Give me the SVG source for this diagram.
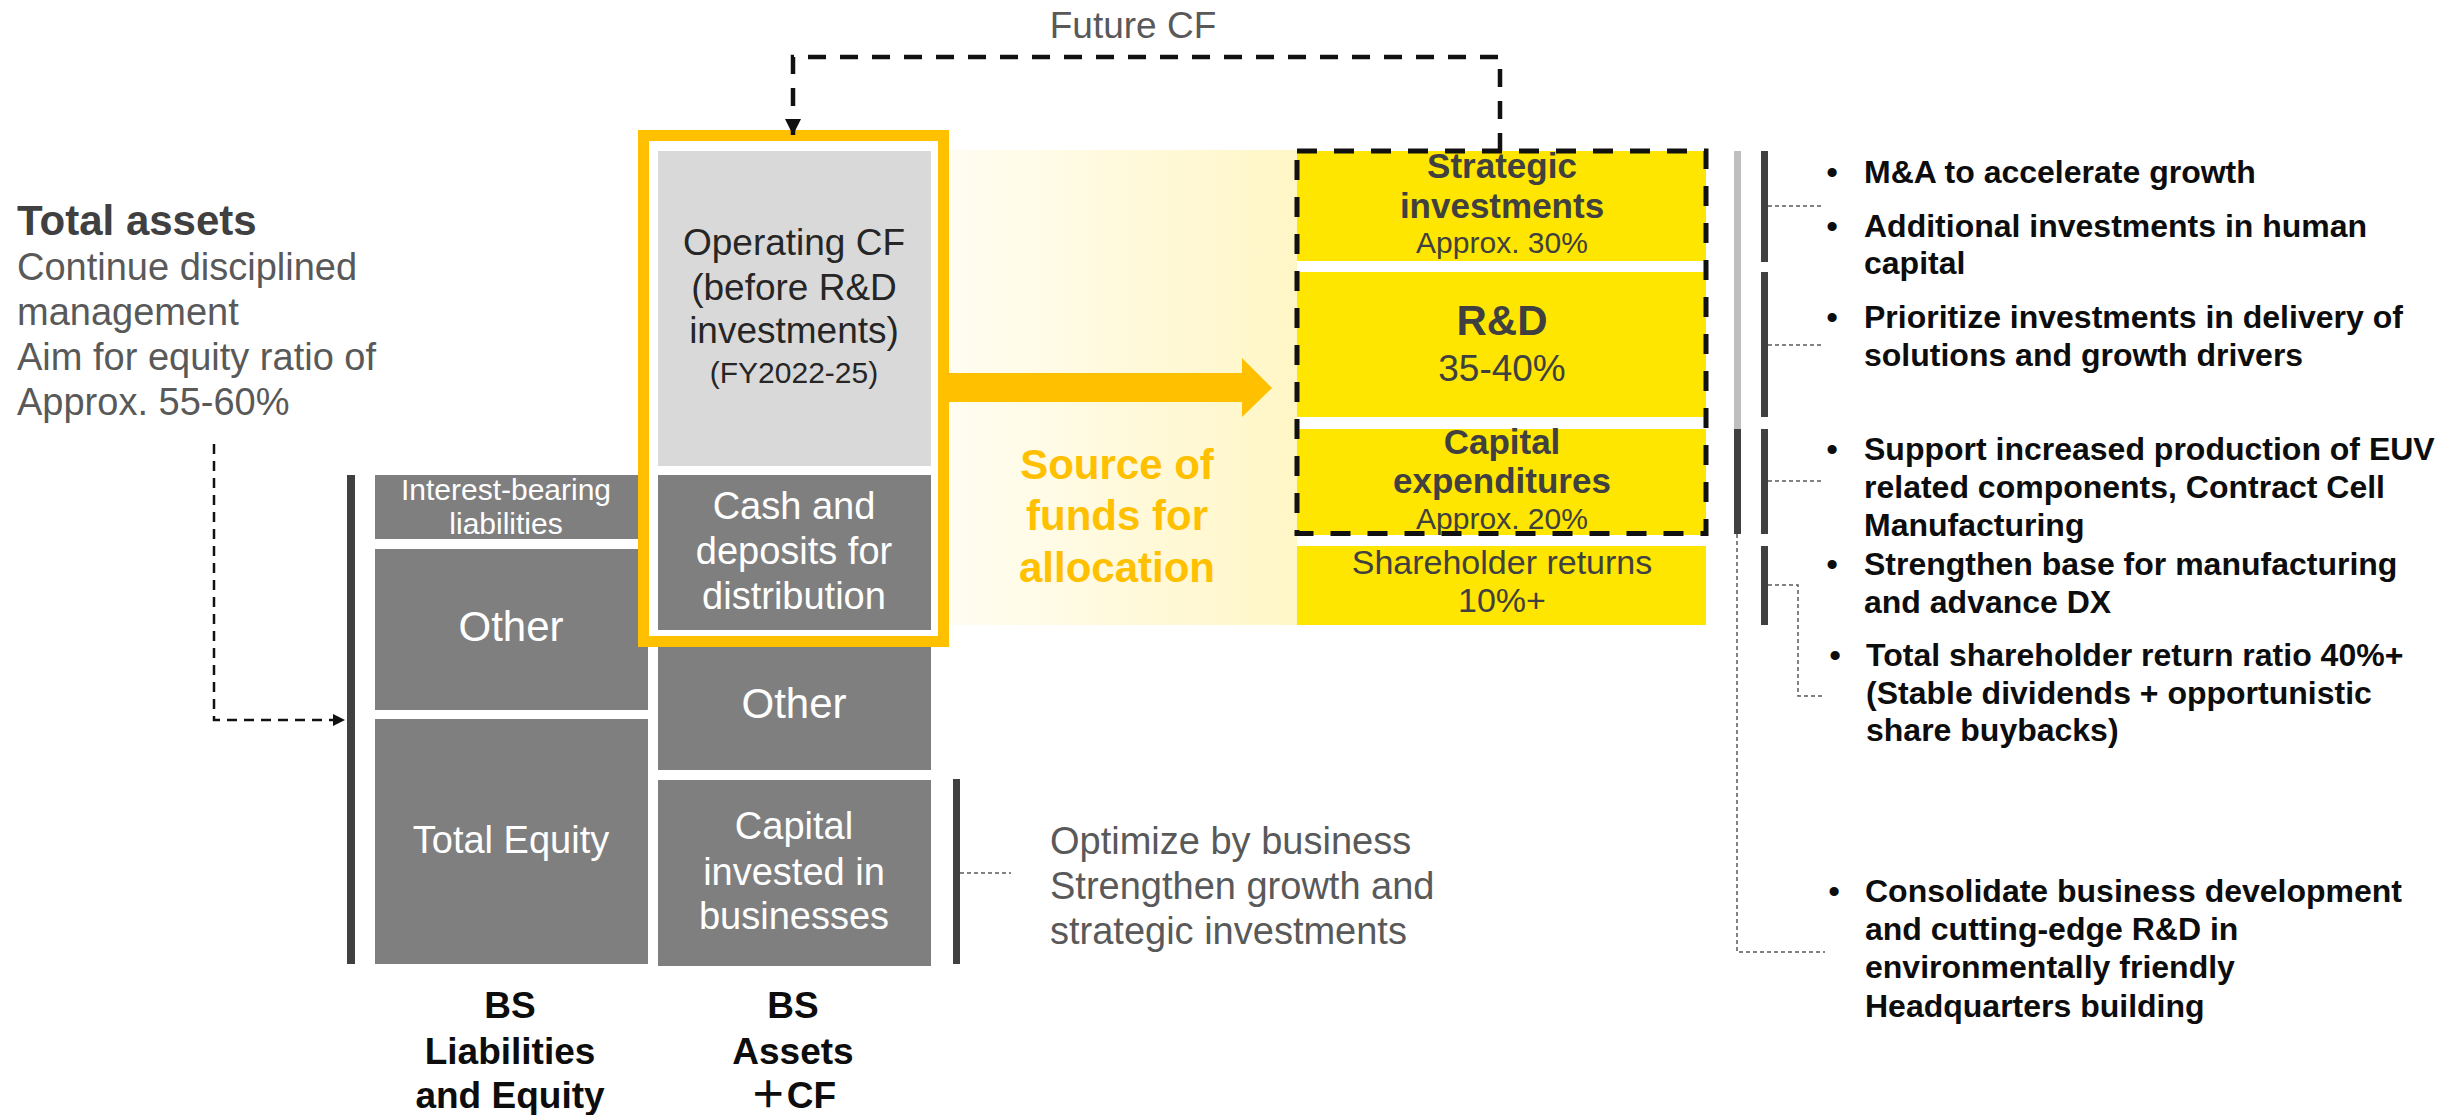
<svg xmlns="http://www.w3.org/2000/svg" width="2451" height="1115" viewBox="0 0 2451 1115">
<defs>
<style>
text{font-family:"Liberation Sans","Noto Sans CJK JP",sans-serif}
.b{font-weight:700}
.mid{text-anchor:middle}
.dg{fill:#7f7f7f}
.wt{fill:#ffffff}
.gr{fill:#595959}
.dk{fill:#404040}
.yb{fill:#ffe600}
.bar{fill:#404040}
.thin{fill:none;stroke:#595959;stroke-width:1.5;stroke-dasharray:4 3}
.blt{font-size:32px;font-weight:700;fill:#0d0d0d}
</style>
<linearGradient id="pale" x1="0" y1="0" x2="1" y2="0">
<stop offset="0" stop-color="#fffdf2"/>
<stop offset="1" stop-color="#fff6c6"/>
</linearGradient>
<marker id="ahBig" markerUnits="userSpaceOnUse" markerWidth="18" markerHeight="18" refX="16" refY="8" orient="auto">
<path d="M0,0 L16,8 L0,16 Z" fill="#111"/>
</marker>
<marker id="ahSmall" markerUnits="userSpaceOnUse" markerWidth="14" markerHeight="14" refX="12" refY="6" orient="auto">
<path d="M0,0 L12,6 L0,12 Z" fill="#111"/>
</marker>
</defs>
<rect width="2451" height="1115" fill="#ffffff"/>

<g id="title-total-assets">
<text x="17" y="235" class="b dk" font-size="42">Total assets</text>
<text class="gr" font-size="38"><tspan x="17" y="280">Continue disciplined</tspan><tspan x="17" y="325">management</tspan><tspan x="17" y="370">Aim for equity ratio of</tspan><tspan x="17" y="415">Approx. 55-60%</tspan></text>
</g>

<g id="future-cf-label">
<text x="1133" y="38" class="gr mid" font-size="37">Future CF</text>
</g>

<g id="source-region">
<rect x="949" y="150" width="348" height="475" fill="url(#pale)"/>
<polygon points="949,373 1242,373 1242,358 1272,388 1242,417 1242,402 949,402" fill="#ffc000"/>
<text class="b mid" font-size="42" fill="#ffc000"><tspan x="1117" y="479">Source of</tspan><tspan x="1117" y="530">funds for</tspan><tspan x="1117" y="582">allocation</tspan></text>
</g>

<g id="liabilities-bar"><rect x="347" y="475" width="8" height="489" class="bar"/></g>

<g id="interest-bearing">
<rect x="375" y="475" width="263" height="64" class="dg"/>
<text class="wt mid" font-size="30"><tspan x="506" y="500">Interest-bearing</tspan><tspan x="506" y="534">liabilities</tspan></text>
</g>
<g id="other-liab">
<rect x="375" y="549" width="273" height="161" class="dg"/>
<text x="511" y="641" class="wt mid" font-size="42">Other</text>
</g>
<g id="total-equity">
<rect x="375" y="719" width="273" height="245" class="dg"/>
<text x="511" y="853" class="wt mid" font-size="38">Total Equity</text>
</g>

<g id="operating-cf">
<rect x="658" y="151" width="273" height="315" fill="#d9d9d9"/>
<text class="mid" font-size="37" fill="#262626"><tspan x="794" y="255">Operating CF</tspan><tspan x="794" y="300">(before R&amp;D</tspan><tspan x="794" y="343">investments)</tspan><tspan x="794" y="383" font-size="30">(FY2022-25)</tspan></text>
</g>
<g id="cash-deposits">
<rect x="658" y="475" width="273" height="155" class="dg"/>
<text class="wt mid" font-size="38"><tspan x="794" y="519">Cash and</tspan><tspan x="794" y="564">deposits for</tspan><tspan x="794" y="609">distribution</tspan></text>
</g>
<g id="other-assets">
<rect x="658" y="645" width="273" height="125" class="dg"/>
<text x="794" y="718" class="wt mid" font-size="42">Other</text>
</g>
<g id="capital-invested">
<rect x="658" y="780" width="273" height="186" class="dg"/>
<text class="wt mid" font-size="38"><tspan x="794" y="839">Capital</tspan><tspan x="794" y="885">invested in</tspan><tspan x="794" y="929">businesses</tspan></text>
</g>

<g id="source-frame">
<rect x="643.5" y="135.5" width="300" height="506" fill="none" stroke="#ffc000" stroke-width="11"/>
</g>

<g id="capital-bar"><rect x="953" y="779" width="7" height="185" class="bar"/></g>
<g id="optimize-note">
<text class="gr" font-size="38"><tspan x="1050" y="854">Optimize by business</tspan><tspan x="1050" y="899">Strengthen growth and</tspan><tspan x="1050" y="944">strategic investments</tspan></text>
</g>

<g id="bs-labels">
<text class="b mid" font-size="37" fill="#0d0d0d"><tspan x="510" y="1018">BS</tspan><tspan x="510" y="1064">Liabilities</tspan><tspan x="510" y="1108">and Equity</tspan></text>
<text class="b mid" font-size="37" fill="#0d0d0d"><tspan x="793" y="1018">BS</tspan><tspan x="793" y="1064">Assets</tspan><tspan x="793" y="1108">＋CF</tspan></text>
</g>

<g id="strategic">
<rect x="1297" y="151" width="409" height="110" class="yb"/>
<text class="b dk mid" font-size="35"><tspan x="1502" y="178">Strategic</tspan><tspan x="1502" y="218">investments</tspan></text>
<text x="1502" y="253" class="dk mid" font-size="30">Approx. 30%</text>
</g>
<g id="rnd">
<rect x="1297" y="272" width="409" height="145" class="yb"/>
<text x="1502" y="335" class="b dk mid" font-size="42">R&amp;D</text>
<text x="1502" y="381" class="dk mid" font-size="37">35-40%</text>
</g>
<g id="capex">
<rect x="1297" y="429" width="409" height="106" class="yb"/>
<text class="b dk mid" font-size="35"><tspan x="1502" y="454">Capital</tspan><tspan x="1502" y="493">expenditures</tspan></text>
<text x="1502" y="529" class="dk mid" font-size="30">Approx. 20%</text>
</g>
<g id="shareholder-returns">
<rect x="1297" y="546" width="409" height="79" class="yb"/>
<text class="dk mid" font-size="34"><tspan x="1502" y="574">Shareholder returns</tspan><tspan x="1502" y="612">10%+</tspan></text>
</g>
<g id="investment-frame">
<rect x="1297" y="151" width="409" height="382.5" fill="none" stroke="#111" stroke-width="5" stroke-dasharray="20 17"/>
</g>

<g id="right-bars">
<rect x="1734" y="151" width="7" height="278" fill="#bfbfbf"/>
<rect x="1734" y="429" width="7" height="105" class="bar"/>
<rect x="1761" y="151" width="7" height="111" class="bar"/>
<rect x="1761" y="272" width="7" height="145" class="bar"/>
<rect x="1761" y="429" width="7" height="105" class="bar"/>
<rect x="1761" y="546" width="7" height="79" class="bar"/>
</g>

<g id="bullets">
<g id="b-strategic">
<text x="1832" y="183" class="blt mid">•</text><text x="1864" y="183" class="blt">M&amp;A to accelerate growth</text>
<text x="1832" y="237" class="blt mid">•</text><text class="blt"><tspan x="1864" y="237">Additional investments in human</tspan><tspan x="1864" y="274">capital</tspan></text>
</g>
<g id="b-rnd">
<text x="1832" y="328" class="blt mid">•</text><text class="blt"><tspan x="1864" y="328">Prioritize investments in delivery of</tspan><tspan x="1864" y="366">solutions and growth drivers</tspan></text>
</g>
<g id="b-capex">
<text x="1832" y="460" class="blt mid">•</text><text class="blt"><tspan x="1864" y="460">Support increased production of EUV</tspan><tspan x="1864" y="498">related components, Contract Cell</tspan><tspan x="1864" y="536">Manufacturing</tspan></text>
<text x="1832" y="575" class="blt mid">•</text><text class="blt"><tspan x="1864" y="575">Strengthen base for manufacturing</tspan><tspan x="1864" y="613">and advance DX</tspan></text>
</g>
<g id="b-returns">
<text x="1835" y="666" class="blt mid">•</text><text class="blt"><tspan x="1866" y="666">Total shareholder return ratio 40%+</tspan><tspan x="1866" y="704">(Stable dividends + opportunistic</tspan><tspan x="1866" y="741">share buybacks)</tspan></text>
</g>
<g id="b-hq">
<text x="1834" y="902" class="blt mid">•</text><text class="blt"><tspan x="1865" y="902">Consolidate business development</tspan><tspan x="1865" y="940">and cutting-edge R&amp;D in</tspan><tspan x="1865" y="978">environmentally friendly</tspan><tspan x="1865" y="1017">Headquarters building</tspan></text>
</g>
</g>

<g id="connectors">
<path d="M1500,151 V57 H793 V135" fill="none" stroke="#111" stroke-width="4.5" stroke-dasharray="18 14" marker-end="url(#ahBig)"/>
<path d="M214,444 V720 H345" fill="none" stroke="#111" stroke-width="2.5" stroke-dasharray="10 7" marker-end="url(#ahSmall)"/>
<path d="M960,873 H1011" class="thin"/>
<path d="M1768,206 H1821" class="thin"/>
<path d="M1768,345 H1821" class="thin"/>
<path d="M1768,481 H1821" class="thin"/>
<path d="M1768,585 H1798 V696 H1825" class="thin"/>
<path d="M1737,534 V952 H1825" class="thin"/>
</g>
</svg>
